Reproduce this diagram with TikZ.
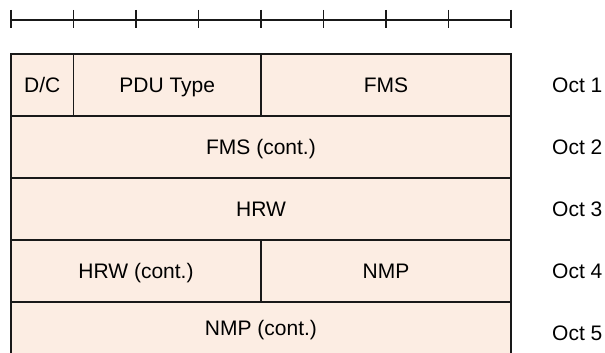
\documentclass[tikz,border=0pt]{standalone}
\usepackage{fontspec}
\setmainfont{Liberation Sans}
\definecolor{cellfill}{RGB}{252,237,227}
\definecolor{linecol}{RGB}{25,25,25}
\begin{document}
\begin{tikzpicture}[x=1pt,y=-1pt,
  txt/.style={font=\fontsize{21}{25}\selectfont, text height=15pt, text depth=0pt, inner sep=0pt},
  cell/.style={txt, draw=linecol, line width=1.2pt, fill=cellfill, outer sep=0pt, minimum height=62pt},
  bare/.style={fill=cellfill, inner sep=0pt, outer sep=0pt, minimum height=62pt, minimum width=500pt},
  octlabel/.style={txt, anchor=west},
  ruler/.style={draw=linecol, line width=1.2pt}]
\useasboundingbox (0,0) rectangle (605,353);
\clip (0,0) rectangle (605,353);
% ruler
\coordinate (r0) at (11,20);
\coordinate (r8) at (511,20);
\draw[ruler] (r0) -- (r8);
\foreach \i in {0,...,8}{
  \coordinate (t\i a) at ({11+62.5*\i},10);
  \coordinate (t\i b) at ({11+62.5*\i},28);
  \draw[ruler] (t\i a) -- (t\i b);
}
% row 1
\node[cell, minimum width=62.5pt] (dc) at (42.25,85) {D/C};
\node[cell, minimum width=187.5pt] (pdu) at (167.25,85) {PDU Type};
\node[cell, minimum width=250pt] (fms) at (386,85) {FMS};
% row 2
\node[cell, minimum width=500pt] (fmsc) at (261,147) {FMS (cont.)};
% row 3
\node[cell, minimum width=500pt] (hrw) at (261,209) {HRW};
% row 4
\node[cell, minimum width=250pt] (hrwc) at (136,271) {HRW (cont.)};
\node[cell, minimum width=250pt] (nmp) at (386,271) {NMP};
% row 5 (cut off at the bottom)
\node[bare] (nmpcbox) at (261,333.6) {};
\draw[ruler] (nmpcbox.north west) -- (nmpcbox.south west);
\draw[ruler] (nmpcbox.north east) -- (nmpcbox.south east);
\draw[ruler] (nmpcbox.north west) -- (nmpcbox.north east);
\node[txt] (nmpc) at (261,328) {NMP (cont.)};
% octet labels
\node[octlabel] (o1) at (552,85) {Oct 1};
\node[octlabel] (o2) at (552,147) {Oct 2};
\node[octlabel] (o3) at (552,209) {Oct 3};
\node[octlabel] (o4) at (552,271) {Oct 4};
\node[octlabel] (o5) at (552,333) {Oct 5};
\end{tikzpicture}
\end{document}
